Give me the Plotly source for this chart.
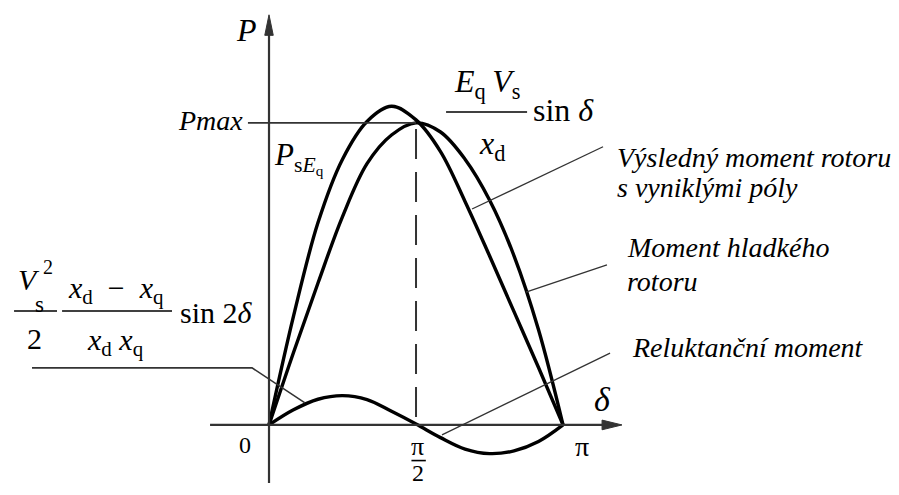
import plotly.graph_objects as go

# load angle in degrees (0 .. 180 = pi), power in units of Pmax
delta = [0, 15, 30, 45, 60, 75, 90, 105, 120, 135, 150, 165, 180]
p_hladky = [0, 0.24, 0.47, 0.69, 0.865, 0.96, 1.0, 0.97, 0.88, 0.745, 0.56, 0.315, 0]
p_vysledny = [0, 0.36, 0.67, 0.88, 1.005, 1.055, 1.01, 0.905, 0.74, 0.56, 0.375, 0.19, 0]
p_reluktance = [0, 0.05, 0.085, 0.097, 0.084, 0.045, 0.003, -0.042, -0.08, -0.095, -0.086, -0.055, 0]

SERIF = "Liberation Serif"
INK = "#000000"
AXIS = "#333333"
THIN = "\u2009"

fig = go.Figure()
for ys in (p_hladky, p_vysledny, p_reluktance):
    fig.add_trace(go.Scatter(
        x=delta, y=ys, mode="lines",
        line=dict(color=INK, width=3.4, shape="spline"),
        hoverinfo="skip", showlegend=False,
    ))


def seg(x0, y0, x1, y1, width=1.3, color=AXIS, dash=None):
    fig.add_shape(type="line", x0=x0, y0=y0, x1=x1, y1=y1, xref="x", yref="y",
                  line=dict(color=color, width=width, dash=dash))


def label(x, y, text, size=28, xanchor="center", italic=False):
    if italic:
        text = f"<i>{text}</i>"
    fig.add_annotation(x=x, y=y, text=text, showarrow=False, xref="x", yref="y",
                       xanchor=xanchor, yanchor="middle",
                       font=dict(family=SERIF, size=size, color=INK))


# axes with arrowheads
seg(-36.1, 0, 205, 0, width=2.2)
seg(0, -0.192, 0, 1.30, width=2.2)
fig.add_shape(type="path", path="M 216.1,0 L 203.9,0.016 L 203.9,-0.016 Z",
              fillcolor=AXIS, line=dict(color=AXIS, width=1))
fig.add_shape(type="path", path="M 0,1.358 L -2.6,1.29 L 2.6,1.29 Z",
              fillcolor=AXIS, line=dict(color=AXIS, width=1))

# Pmax level and pi/2 guide
seg(-12.9, 1.0, 90, 1.0, width=1.6)
seg(90, 0.98, 90, 0, width=2, dash="30px,13px")

# axis labels
label(-13.5, 1.308, "P", size=32, italic=True)
label(-14.7, 1.007, "Pmax", size=28, xanchor="right", italic=True)
label(-14.7, -0.066, "0", size=24)
label(191.6, -0.07, "π", size=28)
label(91, -0.072, "π", size=26)
seg(87.2, -0.118, 96.0, -0.118, width=1.6, color=INK)
label(91, -0.16, "2", size=24)
label(203.9, 0.083, "δ", size=34, italic=True)
label(1.6, 0.884, "<i>P</i><sub>s<i>E</i><sub>q</sub></sub>", size=31, xanchor="left")

# E_q V_s / x_d sin(delta)
label(133.5, 1.129, f"<i>E</i><sub>q</sub>{THIN}<i>V</i><sub>s</sub>", size=32)
seg(108.4, 1.036, 158.0, 1.036, width=1.6, color=INK)
label(136.5, 0.924, "<i>x</i><sub>d</sub>", size=32)
label(160.4, 1.043, "sin <i>δ</i>", size=32, xanchor="left")

# V_s^2 / 2 * (x_d - x_q)/(x_d x_q) sin 2delta
label(-147.0, 0.482, "V", size=30, italic=True)
label(-135.3, 0.522, "2", size=20)
label(-140.5, 0.40, "s", size=23)
seg(-156.1, 0.377, -129.8, 0.377, width=1.6, color=INK)
label(-143.3, 0.285, "2", size=30)
label(-93.7, 0.447, "<i>x</i><sub>d</sub>\u2002−\u2002<i>x</i><sub>q</sub>", size=30)
seg(-126.7, 0.377, -59.4, 0.377, width=1.6, color=INK)
label(-93.7, 0.275, f"<i>x</i><sub>d</sub>\u2005<i>x</i><sub>q</sub>", size=30)
label(-55.7, 0.371, "sin 2<i>δ</i>", size=30, xanchor="left")

# curve names and leader lines
label(211.8, 0.887, "Výsledný moment rotoru", xanchor="left", italic=True)
label(211.8, 0.785, "s vyniklými póly", xanchor="left", italic=True)
label(218.0, 0.589, "Moment hladkého", xanchor="left", italic=True)
label(218.0, 0.474, "rotoru", xanchor="left", italic=True)
label(221.0, 0.255, "Reluktanční moment", xanchor="left", italic=True)

seg(204.5, 0.921, 124.3, 0.715)
seg(206.9, 0.530, 157.3, 0.440)
seg(208.8, 0.238, 105.9, -0.033)
fig.add_shape(type="path", path="M -145.1,0.189 L -10.4,0.189 L 22.0,0.073",
              line=dict(color=AXIS, width=1.6))

fig.update_xaxes(range=[-164.7, 385.7], visible=False, fixedrange=True)
fig.update_yaxes(range=[-0.232, 1.407], visible=False, fixedrange=True)
fig.update_layout(
    width=899, height=495,
    margin=dict(l=0, r=0, t=0, b=0),
    paper_bgcolor="white", plot_bgcolor="white",
    showlegend=False,
)
fig.write_html("out.html", config={"displayModeBar": False},
               post_script="document.body.style.margin='0';document.body.style.overflow='hidden';")
